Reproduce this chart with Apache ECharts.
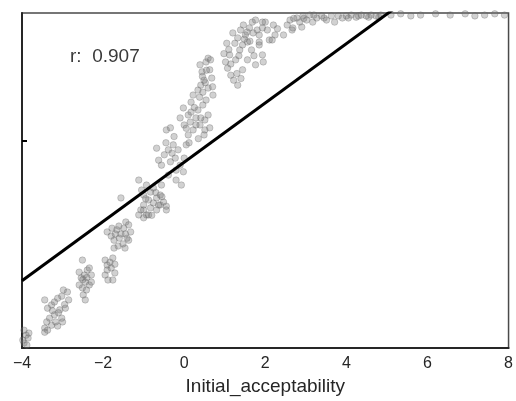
<!DOCTYPE html>
<html>
<head>
<meta charset="utf-8">
<script src="https://cdn.jsdelivr.net/npm/echarts@6/dist/echarts.min.js"></script>
<style>
  html, body { margin: 0; padding: 0; background: #fff; }
  #chart { width: 516px; height: 401px; }
</style>
</head>
<body>
<div id="chart"></div>
<script>
// Observations: [Initial_acceptability, outcome]
const points = [
  [-3.95,-4.57],[-3.90,-4.69],[-3.85,-4.76],[-3.95,-4.88],[-3.88,-4.93],[-3.83,-4.64],[-3.98,-4.81],
  [-3.44,-3.84],[-3.37,-4.04],[-3.27,-3.96],[-3.20,-3.89],[-3.12,-3.80],[-3.02,-3.75],[-2.98,-3.60],
  [-2.88,-3.65],[-2.85,-3.84],[-2.93,-4.04],[-3.07,-4.08],[-3.20,-4.20],[-3.32,-4.28],[-3.39,-4.37],
  [-3.44,-4.52],[-3.27,-4.45],[-3.17,-4.37],[-3.02,-4.28],[-3.00,-4.37],[-3.12,-4.47],[-3.37,-4.57],
  [-3.44,-4.62],[-3.10,-4.15],[-3.25,-4.10],[-2.95,-3.95],
  [-2.59,-3.17],[-2.54,-3.31],[-2.46,-3.24],[-2.39,-3.12],[-2.34,-3.07],[-2.29,-3.24],[-2.44,-3.41],
  [-2.51,-3.55],[-2.41,-3.60],[-2.34,-3.48],[-2.49,-3.72],[-2.44,-3.84],[-2.29,-3.41],[-2.59,-3.48],
  [-2.51,-2.88],[-2.40,-3.30],[-2.50,-3.35],
  [-1.95,-2.88],[-1.90,-3.00],[-1.83,-2.93],[-1.76,-2.83],[-1.71,-2.98],[-1.90,-3.12],[-1.80,-3.07],
  [-1.95,-3.24],[-1.88,-3.36],[-1.76,-3.36],[-1.71,-3.19],
  [-1.90,-2.20],[-1.80,-2.30],[-1.73,-2.40],[-1.66,-2.15],[-1.61,-2.06],[-1.56,-2.25],[-1.49,-2.11],
  [-1.44,-1.96],[-1.37,-2.03],[-1.32,-2.20],[-1.41,-2.35],[-1.51,-2.49],[-1.63,-2.54],[-1.73,-2.59],
  [-1.46,-2.59],[-1.78,-2.11],[-1.37,-2.40],[-1.56,-1.38],[-1.60,-2.35],[-1.45,-2.25],[-1.70,-2.25],
  [-1.07,-1.67],[-1.00,-1.55],[-0.93,-1.79],[-0.83,-1.62],[-0.76,-1.50],[-0.68,-1.67],[-0.59,-1.55],
  [-0.51,-1.48],[-0.44,-1.58],[-1.00,-1.86],[-0.88,-1.43],[-1.12,-0.95],[-1.05,-1.19],[-1.00,-1.31],
  [-0.93,-1.07],[-0.83,-1.24],[-0.76,-1.14],[-0.68,-1.38],[-0.63,-1.55],[-0.59,-1.31],[-0.44,-1.67],
  [-1.00,-1.67],[-1.12,-1.79],[-0.88,-1.79],[-0.56,-1.07],[-0.95,-1.40],[-0.70,-1.25],[-0.80,-1.80],
  [-0.55,-1.35],
  [-0.68,-0.18],[-0.63,-0.47],[-0.56,-0.59],[-0.49,-0.34],[-0.39,-0.22],[-0.34,-0.51],[-0.27,-0.10],
  [-0.22,-0.42],[-0.20,-0.71],[-0.15,-0.22],[-0.10,-0.59],[-0.02,-0.75],[0.00,-0.42],[0.05,-0.10],
  [-0.20,-0.95],[-0.39,-0.83],[-0.07,-1.07],[-0.25,0.10],[-0.30,-0.30],[0.12,-0.05],[-0.45,-0.05],
  [-0.44,0.26],[-0.34,0.31],[-0.10,0.55],[0.00,0.38],[0.10,0.62],[0.15,0.45],[0.22,0.26],
  [0.29,0.55],[0.34,0.74],[0.39,0.38],[0.46,0.86],[0.51,0.50],[0.51,0.26],[0.10,0.14],
  [0.17,0.93],[-0.02,0.79],[0.17,0.69],[0.22,1.10],[0.29,0.38],[0.34,1.22],[0.41,0.55],
  [0.54,0.98],[0.59,0.62],[0.63,0.31],[0.49,0.14],[0.05,0.30],[0.25,0.80],[0.35,0.05],
  [0.39,1.83],[0.44,1.66],[0.49,1.46],[0.54,1.90],[0.59,1.99],[0.63,1.71],[0.68,1.51],
  [0.59,1.27],[0.46,1.17],[0.71,1.10],[0.41,1.34],[0.45,1.55],[0.55,1.70],[0.65,1.95],
  [0.70,1.30],[0.38,1.05],[0.52,1.40],
  [1.02,1.90],[1.07,1.75],[1.15,1.58],[1.22,1.46],[1.32,1.34],[1.12,2.07],[1.27,1.95],
  [1.37,2.19],[1.44,2.31],[1.32,2.48],[1.39,2.67],[1.46,2.79],[1.51,2.55],[1.56,2.38],
  [1.61,2.72],[1.68,2.86],[1.66,2.19],[1.56,1.95],[1.44,1.71],[1.76,2.91],[1.80,2.67],
  [1.10,2.20],[1.20,2.60],[1.25,2.35],[1.35,2.05],[1.48,2.45],[1.55,2.62],[1.62,2.40],
  [1.70,2.60],[1.72,2.05],[1.15,1.85],[1.30,1.62],[1.40,1.50],[1.05,2.35],[0.98,2.10],
  [1.85,2.55],[1.93,2.72],[2.00,2.86],[2.05,2.67],[2.10,2.43],[2.20,2.79],[2.24,2.55],
  [1.85,2.38],[1.93,2.86],[1.85,2.31],[1.93,2.07],[1.76,1.83],[2.17,2.43],[1.95,1.90],
  [2.45,2.55],[2.30,2.70],
  [2.54,2.79],[2.61,2.91],[2.68,2.72],[2.78,2.96],[2.85,2.86],[2.93,3.01],[3.02,2.91],
  [3.10,3.03],[3.17,2.86],[3.27,2.96],[3.39,3.01],[3.51,2.91],[3.63,3.01],[3.71,2.86],
  [2.66,2.67],[2.90,2.74],[2.70,2.95],[2.95,2.95],[3.20,3.03],[3.45,2.96],[3.80,3.01],
  [3.90,2.96],[4.05,2.96],[4.30,3.01],[4.55,2.98],[4.80,2.98],
  [4.00,3.01],[4.12,3.03],[4.24,2.98],[4.37,3.03],[4.49,3.01],[4.61,3.03],[4.73,3.01],
  [4.85,3.03],[5.10,3.03],[5.34,3.06],[5.59,3.01],[5.83,3.03],[6.20,3.06],[6.56,3.03],
  [6.93,3.06],[7.17,3.01],[7.41,3.03],[7.66,3.06],[7.90,3.03]
];

// Least-squares fit, given by its two ends
const fitLine = [[-4, -3.38], [8, 5.20]];

const xTicks = [-4, -2, 0, 2, 4, 6, 8];
const yTickValues = [0];
const rLabel = 'r:  0.907';

const chart = echarts.init(document.getElementById('chart'), null, { renderer: 'canvas' });

const fmtTick = v => (v < 0 ? '\u2212' + Math.abs(v) : String(v));

chart.setOption({
  animation: false,
  backgroundColor: '#ffffff',
  textStyle: { fontFamily: 'Liberation Sans, Arial, sans-serif' },
  grid: {
    left: 22, right: 2, top: 13, bottom: 53,
    show: true, borderColor: '#4a4a4a', borderWidth: 1.5, backgroundColor: 'transparent'
  },
  xAxis: {
    type: 'value',
    min: xTicks[0],
    max: xTicks[xTicks.length - 1],
    interval: 2,
    name: 'Initial_acceptability',
    nameLocation: 'middle',
    nameGap: 29,
    nameTextStyle: { fontSize: 19, color: '#262626', fontFamily: 'Liberation Sans, Arial, sans-serif' },
    axisLine: { show: true, onZero: false, lineStyle: { color: '#262626', width: 2 } },
    axisTick: { show: false },
    splitLine: { show: false },
    axisLabel: {
      show: true, margin: 8, fontSize: 16, color: '#262626',
      formatter: fmtTick, showMinLabel: true, showMaxLabel: true
    }
  },
  yAxis: {
    type: 'value',
    min: -5,
    max: 3.08,
    axisLine: { show: true, onZero: false, lineStyle: { color: '#262626', width: 2 } },
    axisTick: { show: true, inside: true, length: 5, customValues: yTickValues, lineStyle: { color: '#000', width: 2 } },
    axisLabel: { show: false },
    splitLine: { show: false }
  },
  graphic: [{
    type: 'text',
    left: 70,
    top: 47,
    style: {
      text: rLabel,
      fontSize: 19,
      fill: '#3a3a3a',
      fontFamily: 'Liberation Sans, Arial, sans-serif'
    }
  }],
  series: [
    {
      type: 'scatter',
      data: points,
      symbol: 'circle',
      symbolSize: 6.5,
      clip: true,
      itemStyle: {
        color: 'rgba(120,120,120,0.42)',
        borderColor: 'rgba(95,95,95,0.45)',
        borderWidth: 0.8
      },
      z: 2
    },
    {
      type: 'line',
      data: fitLine,
      symbol: 'none',
      clip: true,
      lineStyle: { color: '#000', width: 3 },
      z: 3
    }
  ]
});
</script>
</body>
</html>
